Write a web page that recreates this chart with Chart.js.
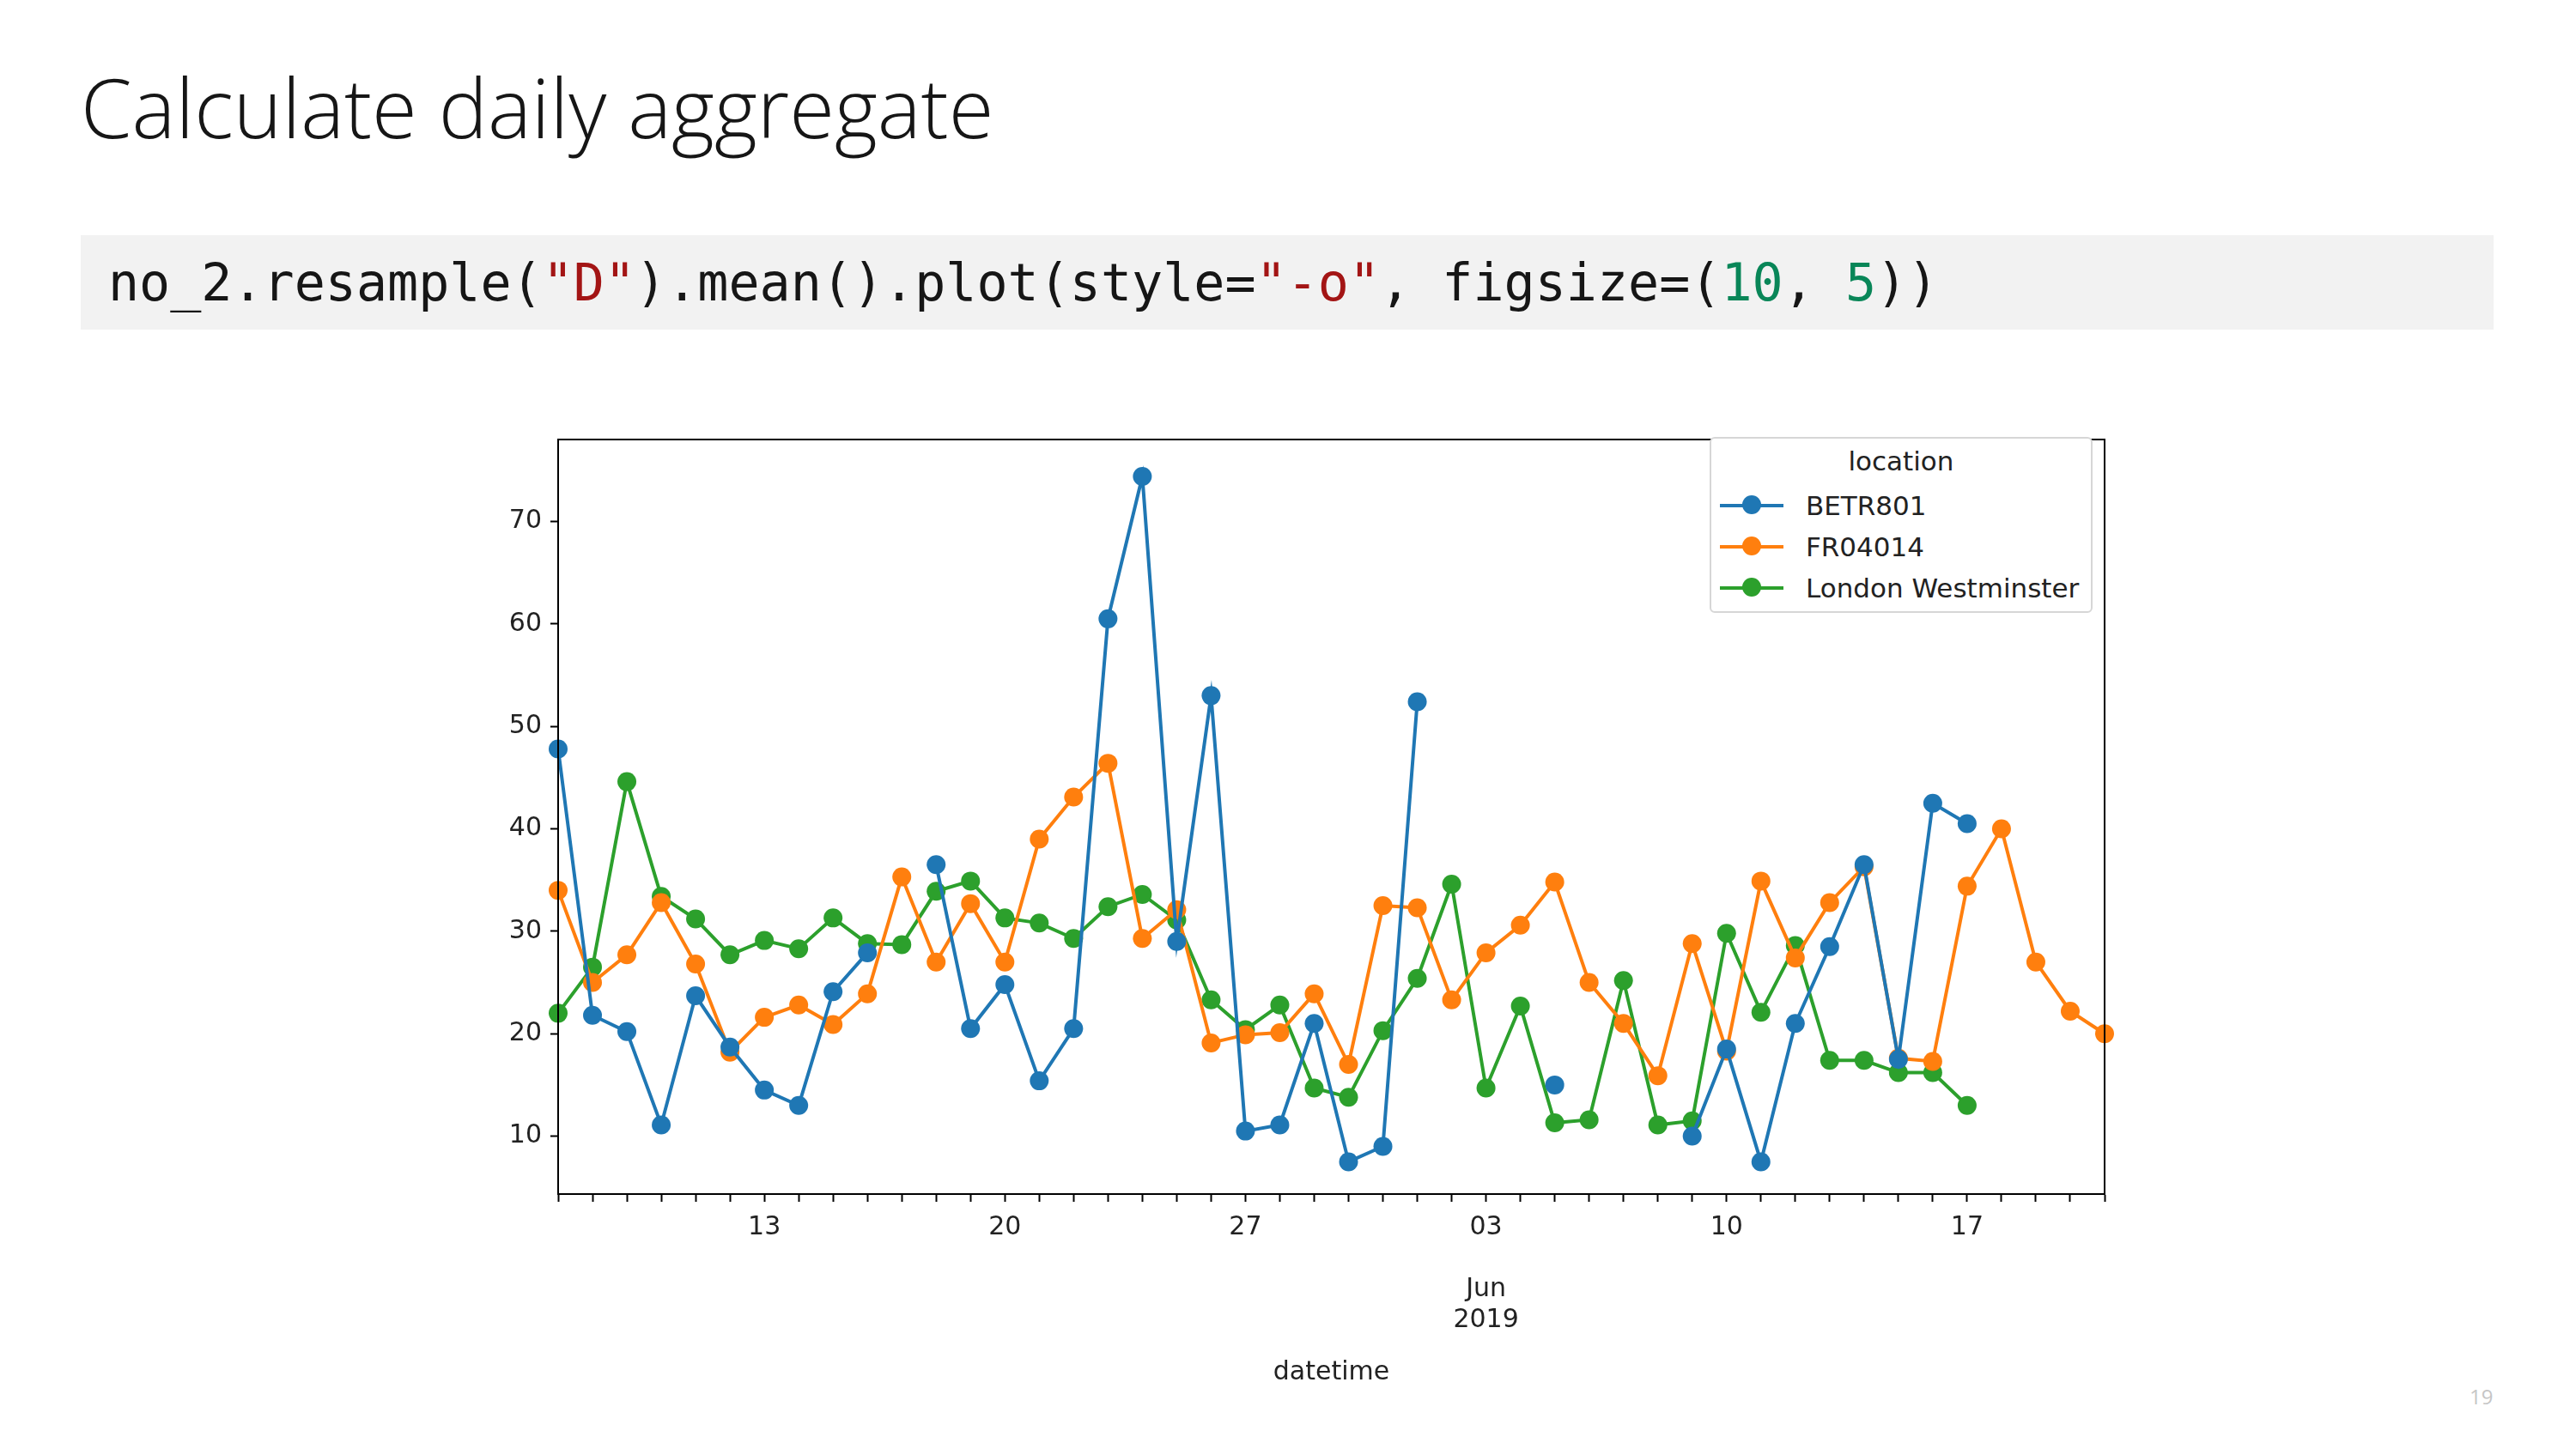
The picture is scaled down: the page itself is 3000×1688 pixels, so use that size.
<!DOCTYPE html>
<html>
<head>
<meta charset="utf-8">
<script src="https://cdn.jsdelivr.net/npm/chart.js@4"></script>
<style>
  body { margin:0; width:3000px; height:1688px; background:#fff; position:relative; font-family:"Open Sans", sans-serif; overflow:hidden; }
  h1 { position:absolute; left:94px; top:58px; margin:0; font-weight:300; font-size:96px; color:#161616; font-family:"Open Sans", sans-serif; }
  .code { position:absolute; left:94px; top:274px; width:2810px; height:110px; background:#f2f2f2; font-family:"DejaVu Sans Mono", monospace; font-size:60px; line-height:110px; padding-left:32px; box-sizing:border-box; color:#161616; }
  .s { color:#a31515; } .n { color:#098658; }
  #wrap { position:absolute; left:450px; top:484px; width:2013px; height:1137px; }
  .legend { position:absolute; left:1991px; top:509px; width:446px; height:205px; border:2px solid #d6d6d6; border-radius:6px; background:#fff; font-family:"DejaVu Sans", sans-serif; font-size:31px; color:#222; box-sizing:border-box; }
  .legend .t { text-align:center; margin-top:8px; height:46px; }
  .legend .row { display:flex; align-items:center; height:48px; padding-left:10px; }
  .legend .sw { position:relative; width:74px; height:4px; margin-right:26px; }
  .legend .sw i { position:absolute; left:26px; top:-10px; width:22px; height:22px; border-radius:50%; }
  .pg { position:absolute; left:2876px; top:1610px; font-size:24px; color:#c6c6c6; }
</style>
</head>
<body>
<h1>Calculate daily aggregate</h1>
<div class="code">no_2.resample(<span class="s">"D"</span>).mean().plot(style=<span class="s">"-o"</span>, figsize=(<span class="n">10</span>, <span class="n">5</span>))</div>
<div id="wrap"><canvas id="c" width="2013" height="1137"></canvas></div>
<div class="legend">
  <div class="t">location</div>
  <div class="row"><div class="sw" style="background:#1f77b4"><i style="background:#1f77b4"></i></div>BETR801</div>
  <div class="row"><div class="sw" style="background:#ff7f0e"><i style="background:#ff7f0e"></i></div>FR04014</div>
  <div class="row"><div class="sw" style="background:#2ca02c"><i style="background:#2ca02c"></i></div>London Westminster</div>
</div>
<div class="pg">19</div>
<script>
const dates = ['05-07','05-08','05-09','05-10','05-11','05-12','05-13','05-14','05-15','05-16',
  '05-17','05-18','05-19','05-20','05-21','05-22','05-23','05-24','05-25','05-26',
  '05-27','05-28','05-29','05-30','05-31','06-01','06-02','06-03','06-04','06-05',
  '06-06','06-07','06-08','06-09','06-10','06-11','06-12','06-13','06-14','06-15',
  '06-16','06-17','06-18','06-19','06-20','06-21'];
const labelledDays = ['05-13','05-20','05-27','06-03','06-10','06-17'];

const betr801 = [47.8,21.8,20.2,11.1,23.7,18.7,14.5,13.0,24.1,27.9,
  null,36.5,20.5,24.8,15.4,20.5,60.5,74.4,29.0,53.0,
  10.5,11.1,21.0,7.5,9.0,52.4,null,null,null,15.0,
  null,null,null,10.0,18.5,7.5,21.0,28.5,36.5,17.5,
  42.5,40.5,null,null,null,null];
const fr04014 = [34.0,25.0,27.7,32.8,26.8,18.2,21.6,22.8,20.9,23.9,
  35.3,27.0,32.7,27.0,39.0,43.1,46.4,29.3,32.1,19.1,
  19.9,20.1,23.9,17.0,32.5,32.3,23.3,27.9,30.6,34.8,
  25.0,21.0,15.9,28.8,18.3,34.9,27.4,32.8,36.3,17.6,
  17.3,34.4,40.0,27.0,22.2,20.0];
const london = [22.0,26.5,44.6,33.4,31.2,27.7,29.1,28.3,31.3,28.8,
  28.7,33.9,34.9,31.3,30.8,29.3,32.4,33.6,31.1,23.3,
  20.4,22.8,14.7,13.8,20.3,25.4,34.6,14.7,22.7,11.3,
  11.6,25.2,11.1,11.5,29.8,22.1,28.6,17.4,17.4,16.2,
  16.2,13.0,null,null,null,null];

function ds(label, data, color) {
  return { label, data, borderColor: color, backgroundColor: color, borderWidth: 4,
    pointRadius: 11, pointHoverRadius: 11, pointBorderWidth: 0, spanGaps: false, tension: 0 };
}

const tickFont = { family: 'DejaVu Sans', size: 30 };
new Chart(document.getElementById('c'), {
  type: 'line',
  data: { labels: dates, datasets: [
    ds('BETR801', betr801, '#1f77b4'),
    ds('FR04014', fr04014, '#ff7f0e'),
    ds('London Westminster', london, '#2ca02c')
  ]},
  options: {
    responsive: false, animation: false, devicePixelRatio: 1,
    layout: { padding: { top: 10, right: 10 } },
    plugins: { legend: { display: false }, tooltip: { enabled: false } },
    scales: {
      x: {
        offset: false,
        grid: { drawOnChartArea: false, drawTicks: true, tickLength: 9, color: '#000', tickWidth: 2 },
        border: { color: '#000', width: 2 },
        ticks: { autoSkip: false, maxRotation: 0, color: '#222', font: tickFont, padding: 12,
          callback: function(v, i) {
            const d = dates[i];
            if (!labelledDays.includes(d)) return '';
            const day = d.slice(3);
            return d === '06-03' ? [day, '', 'Jun', '2019'] : day;
          } },
        title: { display: true, text: 'datetime', color: '#222', font: tickFont, padding: { top: 0 } },
        afterFit: s => { s.height = 230; }
      },
      y: {
        min: 4.35, max: 78,
        grid: { drawOnChartArea: false, drawTicks: true, tickLength: 9, color: '#000', tickWidth: 2 },
        border: { color: '#000', width: 2 },
        ticks: { color: '#222', font: tickFont, padding: 10,
          callback: v => String(v) },
        afterBuildTicks: s => { s.ticks = [10,20,30,40,50,60,70].map(v => ({ value: v })); },
        afterFit: s => { s.width = 200; }
      }
    }
  },
  plugins: [{
    id: 'frame',
    afterDraw(chart) {
      const { ctx, chartArea: a } = chart;
      ctx.save(); ctx.strokeStyle = '#000'; ctx.lineWidth = 2;
      ctx.strokeRect(a.left, a.top, a.right - a.left, a.bottom - a.top);
      ctx.restore();
    }
  }]
});
</script>
</body>
</html>
